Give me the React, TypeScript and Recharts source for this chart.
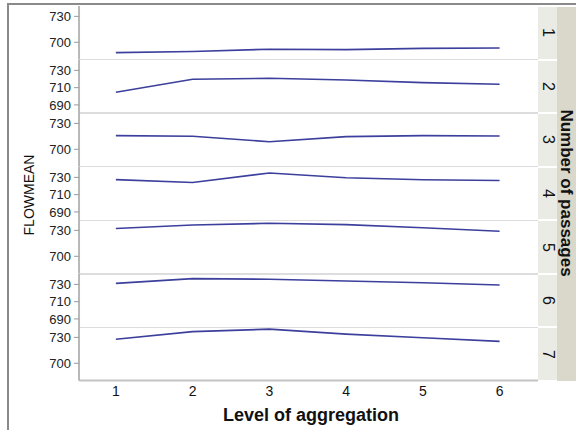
import React from 'react';
import { LineChart, Line, XAxis, YAxis } from 'recharts';

const levels = [1, 2, 3, 4, 5, 6];
const passages = ['1', '2', '3', '4', '5', '6', '7'];

const flow1 = [688, 689.4, 692, 691.5, 693, 693.4];
const flow2 = [704.7, 719.7, 720.8, 718.9, 715.8, 713.9];
const flow3 = [715.8, 715, 708.8, 714.6, 715.8, 715.4];
const flow4 = [727.4, 724, 735.1, 729.5, 727.2, 726.3];
const flow5 = [732.1, 736.2, 738.2, 736.7, 733, 728.9];
const flow6 = [731.2, 736.6, 735.9, 733.9, 731.9, 729.3];
const flow7 = [727.9, 736.6, 739.5, 733.7, 729.6, 725.4];

const oddTicks = [700, 730];
const evenTicks = [690, 710, 730];

const seriesList = [flow1, flow2, flow3, flow4, flow5, flow6, flow7];

const PLOT_LEFT = 79;
const PLOT_RIGHT = 538;
const PLOT_TOP = 6;
const PANEL_H = 375 / 7;
const AXIS_W = 50;
const X_AXIS_H = 40;

const Panel = ({ values, ticks, top, last }: { values: number[]; ticks: number[]; top: number; last: boolean }) => {
  const data = levels.map((lv, i) => ({ level: lv, flow: values[i] }));
  const h = PANEL_H + (last ? X_AXIS_H : 0);
  const w = AXIS_W + PLOT_RIGHT - PLOT_LEFT;
  return (
    <div style={{ position: 'absolute', left: PLOT_LEFT - AXIS_W, top, width: w, height: h }}>
      <LineChart width={w} height={h} data={data} margin={{ top: 0, right: 0, bottom: 0, left: 0 }}>
        <XAxis
          type="number"
          dataKey="level"
          domain={[0.52, 6.5]}
          ticks={levels}
          interval={0}
          hide={!last}
          height={X_AXIS_H}
          axisLine={{ stroke: '#c4c4c4', strokeWidth: 2 }}
          tickLine={false}
          tickSize={4}
          tickMargin={1}
          tick={{ fontSize: 14, fill: '#111' }}
        />
        <YAxis
          domain={[680, 742]}
          ticks={ticks}
          interval={0}
          width={AXIS_W}
          axisLine={{ stroke: '#b8b8b8', strokeWidth: 2 }}
          tickLine={{ stroke: '#999' }}
          tickSize={5}
          tickMargin={3}
          tick={{ fontSize: 13, fill: '#222' }}
        />
        <Line
          type="linear"
          dataKey="flow"
          stroke="#3c3f9c"
          strokeWidth={1.6}
          dot={false}
          isAnimationActive={false}
        />
      </LineChart>
    </div>
  );
};

export default function App() {
  return (
    <div
      style={{
        position: 'absolute',
        left: 0,
        top: 0,
        width: 576,
        height: 430,
        background: '#fff',
        overflow: 'hidden',
        fontFamily: '"Liberation Sans", Arial, Helvetica, sans-serif',
      }}
    >
      {/* outer frame */}
      <div style={{ position: 'absolute', left: 7, top: 3, width: 569, height: 2, background: '#8a8a8a' }} />
      <div style={{ position: 'absolute', left: 7, top: 3, width: 2, height: 427, background: '#8a8a8a' }} />

      {/* panel separators */}
      {passages.slice(1).map((p, i) => (
        <div
          key={`sep-${p}`}
          style={{
            position: 'absolute',
            left: PLOT_LEFT,
            top: PLOT_TOP + (i + 1) * PANEL_H - 0.75,
            width: PLOT_RIGHT - PLOT_LEFT,
            height: 1.5,
            background: '#dddddd',
          }}
        />
      ))}

      {seriesList.map((s, i) => (
        <Panel
          key={`panel-${i}`}
          values={s}
          ticks={i % 2 === 0 ? oddTicks : evenTicks}
          top={PLOT_TOP + i * PANEL_H}
          last={i === seriesList.length - 1}
        />
      ))}

      {/* strip cells */}
      {passages.map((p, i) => (
        <div
          key={`strip-${p}`}
          style={{
            position: 'absolute',
            left: PLOT_RIGHT,
            top: PLOT_TOP + i * PANEL_H + 1,
            width: 19,
            height: PANEL_H - 2,
            background: '#ebebe5',
            display: 'flex',
            alignItems: 'center',
            justifyContent: 'center',
            writingMode: 'vertical-rl',
            fontSize: 16,
            color: '#111',
          }}
        >
          {p}
        </div>
      ))}
      <div
        style={{
          position: 'absolute',
          left: 557,
          top: PLOT_TOP + 1,
          width: 19,
          height: 374,
          background: '#d9d8ca',
        }}
      />
      <div
        style={{
          position: 'absolute',
          left: 566,
          top: 193,
          transform: 'translate(-50%, -50%) rotate(90deg)',
          whiteSpace: 'nowrap',
          fontSize: 17,
          lineHeight: '17px',
          fontWeight: 'bold',
          color: '#111',
        }}
      >
        Number of passages
      </div>

      {/* axis titles */}
      <div
        style={{
          position: 'absolute',
          left: 29,
          top: 195,
          transform: 'translate(-50%, -50%) rotate(-90deg)',
          whiteSpace: 'nowrap',
          fontSize: 14,
          color: '#111',
        }}
      >
        FLOWMEAN
      </div>
      <div
        style={{
          position: 'absolute',
          left: 311,
          top: 415,
          transform: 'translate(-50%, -50%)',
          whiteSpace: 'nowrap',
          fontSize: 18,
          fontWeight: 'bold',
          color: '#111',
        }}
      >
        Level of aggregation
      </div>
    </div>
  );
}
